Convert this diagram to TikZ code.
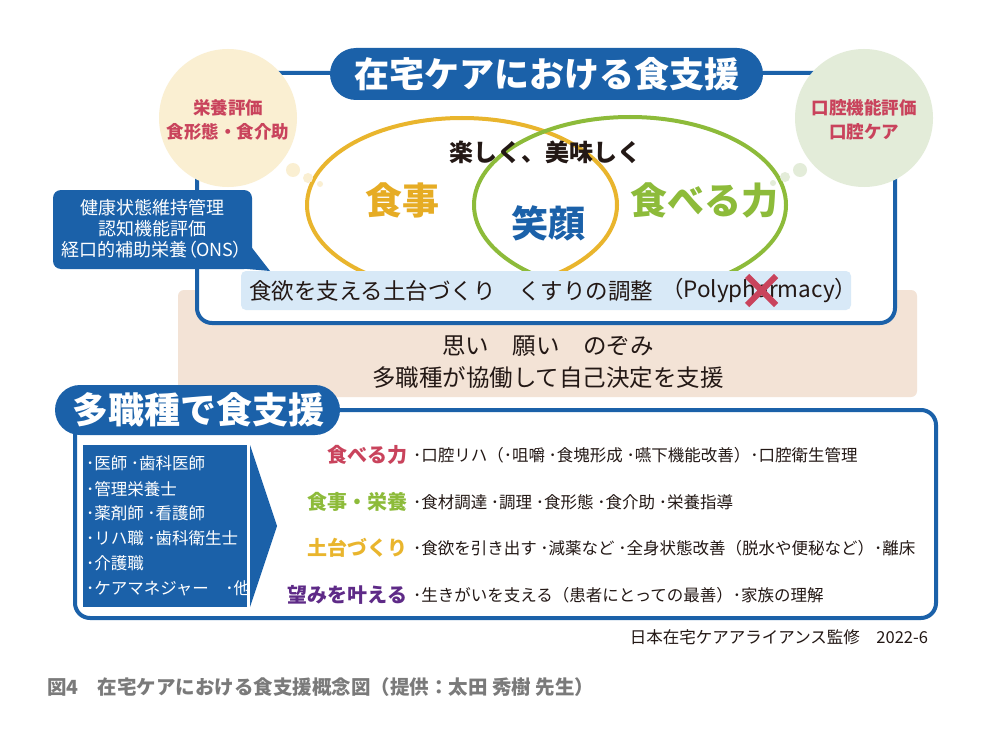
\documentclass[tikz,border=0pt]{standalone}
\usepackage{fontspec}
\setmainfont{Noto Sans CJK JP}
\newfontfamily\jpprop{Noto Sans CJK JP}[RawFeature=+palt]
\usetikzlibrary{shapes.geometric}
\definecolor{jblue}{HTML}{1B61A9}
\definecolor{jyellow}{HTML}{E9B52D}
\definecolor{jyellowtxt}{HTML}{E6AC24}
\definecolor{jgreen}{HTML}{8DBB3A}
\definecolor{jcream}{HTML}{FAEFD2}
\definecolor{jlgreen}{HTML}{E3ECD9}
\definecolor{jred}{HTML}{C9435C}
\definecolor{jlblue}{HTML}{D8E9F7}
\definecolor{jbeige}{HTML}{F3E3D6}
\definecolor{jpurple}{HTML}{5E2A87}
\definecolor{jink}{HTML}{231815}
\definecolor{jgray}{HTML}{7A7A7A}
\newcommand\fsz[1]{\fontsize{#1}{#1}\selectfont}
\tikzset{
  frameline/.style={draw=jblue, line width=4pt, rounded corners=15pt, fill=white},
  ring/.style={line width=4pt},
  pillbox/.style={fill=jblue},
  whitetxt/.style={text=white, font=\bfseries},
  circtxt/.style={text=jred, font=\fsz{17.5}\bfseries, align=center},
  bigword/.style={font=\fsz{37}\bfseries},
  listtxt/.style={text=white, font=\fsz{16.5}, anchor=west},
  label/.style={font=\fsz{20}\bfseries, anchor=east},
  itemtxt/.style={text=jink, font=\fsz{16.5}, anchor=west},
  body/.style={text=jink}
}
\begin{document}
\begin{tikzpicture}[x=1pt,y=-1pt, every node/.style={inner sep=0pt, outer sep=0pt}]
\useasboundingbox (0,0) rectangle (1000,730);
\fill[white] (0,0) rectangle (1000,730);

% beige band
\fill[jbeige, rounded corners=6pt] (178,290) rectangle (917,397);
% top frame
\draw[frameline] (197,73) rectangle (895,323);

% ellipses
\draw[ring, draw=jyellow] (462,205) ellipse [x radius=155pt, y radius=87pt];
\draw[ring, draw=jgreen] (630,205) ellipse [x radius=156pt, y radius=88pt];

\node[body, font=\fsz{24}\bfseries] (fun) at (545,152) {楽しく、美味しく};
\node[bigword, text=jyellowtxt] (meal) at (402,200) {食事};
\node[bigword, text=jblue] (smile) at (548,223) {笑顔};
\node[bigword, text=jgreen] (power) at (704,200) {食べる力};

% light blue box
\fill[jlblue, rounded corners=5pt] (241,271) rectangle (851,310);
\node[body, font=\fsz{22.5}, anchor=west] (base1) at (249,291) {食欲を支える土台づくり};
\node[body, font=\fsz{22.5}, anchor=west] (base2) at (518,291) {くすりの調整};
\node[body, font=\fsz{22.5}, anchor=west] (base3) at (661,291) {（Polypharmacy）};
\draw[jred, line width=6pt] (747,276) -- (776,305) (776,276) -- (747,305);

% beige texts
\node[body, font=\fsz{23.5}] (wish) at (548,346) {思い　願い　のぞみ};
\node[body, font=\fsz{23.5}] (decide) at (548,378) {多職種が協働して自己決定を支援};

% circles
\fill[jcream] (228,118) circle (69pt);
\fill[jcream] (293,170) circle (7pt);
\fill[jcream] (308,178) circle (5pt);
\fill[jcream] (320,184) circle (3pt);
\node[circtxt] (nutr) at (228,120) {栄養評価\\[7pt]食形態・食介助};
\fill[jlgreen] (864,118) circle (69pt);
\fill[jlgreen] (800,170) circle (7pt);
\fill[jlgreen] (785,177) circle (5pt);
\fill[jlgreen] (773,183) circle (3pt);
\node[circtxt] (oral) at (864,120) {口腔機能評価\\[7pt]口腔ケア};

% title pill
\fill[pillbox, rounded corners=26pt] (330,48) rectangle (763,100);
\node[whitetxt, font=\fsz{35}\bfseries] (title) at (547,74) {在宅ケアにおける食支援};

% callout
\fill[pillbox, rounded corners=8pt] (53,190) rectangle (252,269);
\fill[pillbox] (249,244) -- (270,271) -- (236,268) -- cycle;
\node[text=white, font=\fsz{18}] (c1) at (152,208) {健康状態維持管理};
\node[text=white, font=\fsz{18}] (c2) at (152,229) {認知機能評価};
\node[text=white, font=\jpprop\fsz{18}] (c3) at (152,250) {経口的補助栄養（ONS）};

% bottom frame
\draw[frameline] (75,410) rectangle (936,618);
\fill[pillbox, rounded corners=25pt] (55,385) rectangle (340,435);
\node[whitetxt, font=\fsz{36}\bfseries] (multi) at (198,410) {多職種で食支援};

% professions box and chevron
\fill[pillbox] (83,445) rectangle (247,607);
\fill[pillbox] (250,445) -- (277,526) -- (250,607) -- cycle;
\node[listtxt] (p1) at (86,463) {･医師 ･歯科医師};
\node[listtxt] (p2) at (86,489) {･管理栄養士};
\node[listtxt] (p3) at (86,513) {･薬剤師 ･看護師};
\node[listtxt] (p4) at (86,538) {･リハ職 ･歯科衛生士};
\node[listtxt] (p5) at (86,563) {･介護職};
\node[listtxt] (p6) at (86,588) {･ケアマネジャー　･他};

% labels and items
\node[label, text=jred] (l1) at (407,455) {食べる力};
\node[label, text=jgreen] (l2) at (407,502) {食事・栄養};
\node[label, text=jyellow] (l3) at (407,548) {土台づくり};
\node[label, text=jpurple] (l4) at (407,595) {望みを叶える};
\node[itemtxt] (i1) at (413,455) {･口腔リハ（･咀嚼 ･食塊形成 ･嚥下機能改善）･口腔衛生管理};
\node[itemtxt] (i2) at (413,502) {･食材調達 ･調理 ･食形態 ･食介助 ･栄養指導};
\node[itemtxt] (i3) at (413,548) {･食欲を引き出す ･減薬など ･全身状態改善（脱水や便秘など）･離床};
\node[itemtxt] (i4) at (413,595) {･生きがいを支える（患者にとっての最善）･家族の理解};

% credit and caption
\node[body, font=\fsz{16.5}, anchor=east] (credit) at (928,637) {日本在宅ケアアライアンス監修　2022-6};
\node[text=jgray, font=\fsz{19.5}\bfseries, anchor=west] (caption) at (47,687) {図4　在宅ケアにおける食支援概念図（提供：太田 秀樹 先生）};
\end{tikzpicture}
\end{document}
